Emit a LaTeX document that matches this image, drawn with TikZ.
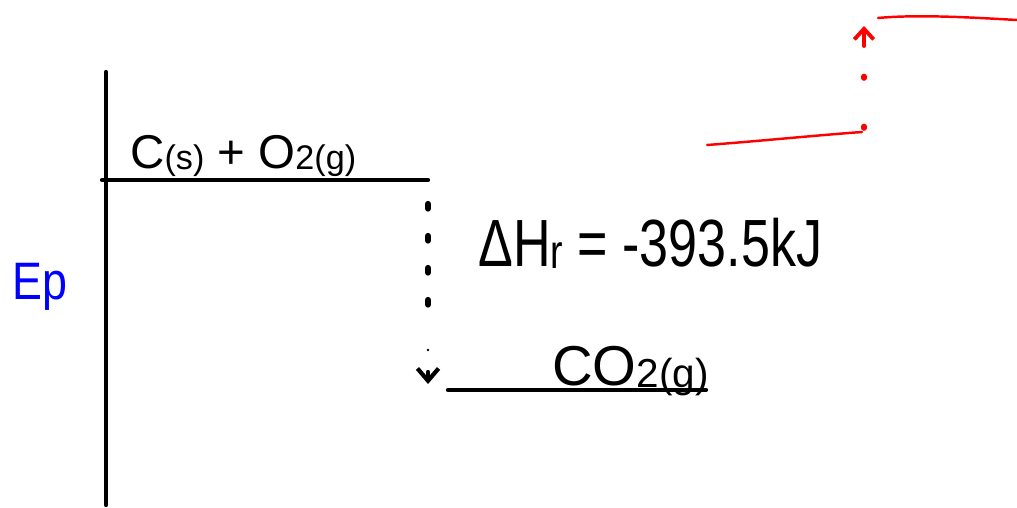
\documentclass[tikz,border=0pt]{standalone}
\usepackage{fontspec}
\setmainfont{Liberation Sans}
\usetikzlibrary{arrows.meta}
\newcommand{\lowsub}[1]{\raisebox{-0.04em}{\scalebox{0.72}{#1}}}
\begin{document}
\begin{tikzpicture}[x=0.02cm,y=-0.02cm,
  ink/.style={line width=2.4pt, line cap=round},
  dotline/.style={line width=3.6pt, line cap=round, dash pattern=on 0.9mm off 5.5mm},
  redink/.style={red, line width=1.4pt, line cap=round},
  reddots/.style={red, line width=3.2pt, line cap=round, dash pattern=on 0.3mm off 9.7mm},
  lbl/.style={inner sep=0pt, anchor=base west}]
\useasboundingbox (0,0) rectangle (1017,507);
% axis
\coordinate (axTop) at (106,72);
\coordinate (axBot) at (106,505);
\draw[ink] (axTop) -- (axBot);
% levels
\coordinate (upL) at (102,180);
\coordinate (upR) at (428,180);
\draw[ink] (upL) -- (upR);
\coordinate (loL) at (448,390);
\coordinate (loR) at (706,390);
\draw[ink] (loL) -- (loR);
% dotted arrow down
\coordinate (dTop) at (428,204);
\coordinate (dEnd) at (428,384);
\draw[dotline] (dTop) -- (428,310);
\draw[ink, line width=1.6pt, dash pattern=on 0pt off 5pt] (428,350) -- (428,356);
\draw[ink, -{Straight Barb[length=7pt,width=12pt]}] (428,372) -- (dEnd);
% labels
\node[lbl, font=\fontsize{27}{30}\selectfont] (react) at (130,168) {C\lowsub{(s)} + O\lowsub{2(g)}};
\node[lbl, font=\fontsize{32}{36}\selectfont] (prod) at (552,385) {CO\lowsub{2(g)}};
\node[lbl, font=\fontsize{38}{44}\selectfont, xscale=0.78] (dh) at (478,266) {ΔH\lowsub{r} = -393.5kJ};
\node[lbl, font=\fontsize{30}{34}\selectfont, text=blue, xscale=0.85] (ep) at (12,299) {Ep};
% red sketch
\coordinate (rLoL) at (707,145);
\coordinate (rLoR) at (862,132);
\coordinate (rUpL) at (878,18);
\coordinate (rUpR) at (1017,20);
\draw[redink] (rLoL) .. controls (760,141) and (820,135) .. (rLoR);
\draw[redink] (rUpL) .. controls (920,14) and (980,18) .. (rUpR);
\draw[reddots] (864,128) -- (864,70);
\draw[redink, line width=2.2pt, -{Straight Barb[length=6pt,width=11pt]}] (864,46) -- (864,26);
\end{tikzpicture}
\end{document}
